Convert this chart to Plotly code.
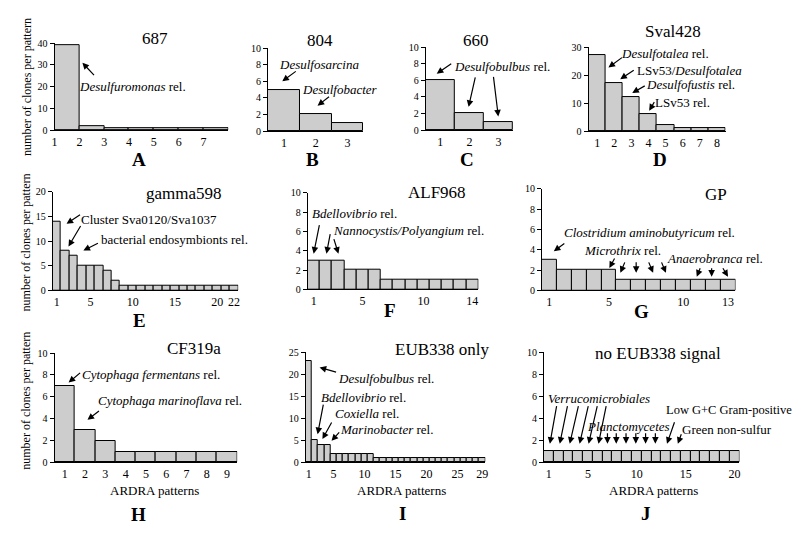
import plotly.graph_objects as go

W, H = 800, 533

# ---------------- data ----------------
panel_letters = ["A", "B", "C", "D", "E", "F", "G", "H", "I", "J"]
probe_names = ["687", "804", "660", "Sval428", "gamma598", "ALF968", "GP",
               "CF319a", "EUB338 only", "no EUB338 signal"]

A_counts = [39, 2, 1, 1, 1, 1, 1]
B_counts = [5, 2, 1]
C_counts = [6, 2, 1]
D_counts = [27, 17, 12, 6, 2, 1, 1, 1]
E_counts = [14, 8, 7, 5, 5, 5, 4, 2, 1, 1, 1, 1, 1, 1, 1, 1, 1, 1, 1, 1, 1, 1]
F_counts = [3, 3, 3, 2, 2, 2, 1, 1, 1, 1, 1, 1, 1, 1]
G_counts = [3, 2, 2, 2, 2, 1, 1, 1, 1, 1, 1, 1, 1]
H_counts = [7, 3, 2, 1, 1, 1, 1, 1, 1]
I_counts = [23, 5, 4, 4, 2, 2, 2, 2, 2, 2, 2, 1, 1, 1, 1, 1, 1, 1, 1, 1,
            1, 1, 1, 1, 1, 1, 1, 1, 1]
J_counts = [1, 1, 1, 1, 1, 1, 1, 1, 1, 1, 1, 1, 1, 1, 1, 1, 1, 1, 1, 1]

A_xticks = [1, 2, 3, 4, 5, 6, 7]
B_xticks = [1, 2, 3]
C_xticks = [1, 2, 3]
D_xticks = [1, 2, 3, 4, 5, 6, 7, 8]
E_xticks = [1, 5, 10, 15, 20, 22]
F_xticks = [1, 5, 10, 14]
G_xticks = [1, 5, 10, 13]
H_xticks = [1, 2, 3, 4, 5, 6, 7, 8, 9]
I_xticks = [1, 5, 10, 15, 20, 25, 29]
J_xticks = [1, 5, 10, 15, 20]

y_max = [40, 10, 10, 30, 20, 10, 10, 10, 25, 10]
y_step = [10, 2, 2, 10, 5, 2, 2, 2, 5, 2]

y_title = "number of clones per pattern"
x_title = "ARDRA patterns"

# ---------------- layout (pixel boxes) ----------------
counts_list = [A_counts, B_counts, C_counts, D_counts, E_counts,
               F_counts, G_counts, H_counts, I_counts, J_counts]
xticks_list = [A_xticks, B_xticks, C_xticks, D_xticks, E_xticks,
               F_xticks, G_xticks, H_xticks, I_xticks, J_xticks]
boxes = [(52, 227, 38, 127), (267, 363, 43, 128), (426, 514, 42, 127),
         (590, 728, 42, 128), (50, 237, 190, 291), (307, 479, 191, 290),
         (543, 738, 187, 291), (52, 236, 355, 467), (305, 486, 354, 467),
         (545, 742, 354, 467)]
edge_ticks = [True] + [False] * 9
title_pos = [(153, 33), (319, 35), (477, 35), (675, 26), (182, 192),
             (437, 191), (718, 193), (192, 350), (442, 351), (660, 355)]
letter_pos = [(137, 157), (312, 157), (468, 157), (662, 157), (138, 322),
              (390, 312), (643, 313), (137, 520), (403, 519), (648, 519)]

FONT = "Liberation Serif"

fig = go.Figure()
layout_upd = {}
for k in range(10):
    s = "" if k == 0 else str(k + 1)
    counts = counts_list[k]
    n = len(counts)
    off = 1.5 if edge_ticks[k] else 1.0
    xs = [i + off for i in range(n)]
    fig.add_trace(go.Bar(
        x=xs, y=counts, width=1, xaxis="x" + s, yaxis="y" + s,
        marker=dict(color="#cdcdcd", line=dict(color="black", width=1)),
        showlegend=False, hoverinfo="skip"))
    x0, x1, y0, y1 = boxes[k]
    xr = [1, n + 1] if edge_ticks[k] else [0.5, n + 0.5]
    layout_upd["xaxis" + s] = dict(
        domain=[x0 / W, x1 / W], range=xr, anchor="y" + s,
        tickmode="array", tickvals=xticks_list[k], ticks="",
        showline=True, linecolor="black", linewidth=1, showgrid=False,
        zeroline=False, tickfont=dict(family=FONT, size=12, color="black"),
        fixedrange=True)
    layout_upd["yaxis" + s] = dict(
        domain=[1 - y1 / H, 1 - y0 / H], range=[0, y_max[k]], anchor="x" + s,
        tickmode="array", tickvals=list(range(0, y_max[k] + 1, y_step[k])),
        ticks="outside", ticklen=4, tickcolor="black",
        showline=True, linecolor="black", linewidth=1, showgrid=False,
        zeroline=False, tickfont=dict(family=FONT, size=10, color="black"),
        fixedrange=True)

fig.update_layout(**layout_upd)
fig.update_layout(width=W, height=H, margin=dict(l=0, r=0, t=0, b=0),
                  paper_bgcolor="white", plot_bgcolor="white", bargap=0,
                  font=dict(family=FONT, color="black"))


def label(text, cx, cy, size=13, angle=0):
    fig.add_annotation(xref="paper", yref="paper", x=cx / W, y=1 - cy / H,
                       text=text, showarrow=False, xanchor="center",
                       yanchor="middle", textangle=angle,
                       font=dict(family=FONT, size=size, color="black"))


def arrow(k, x, y, ax, ay):
    s = "" if k == 0 else str(k + 1)
    fig.add_annotation(xref="x" + s, yref="y" + s, x=x, y=y, ax=ax, ay=ay,
                       text="", showarrow=True, arrowhead=2, arrowsize=1.1,
                       arrowwidth=1.2, arrowcolor="black", standoff=0,
                       startstandoff=0)


# titles and panel letters
for k in range(10):
    label(probe_names[k], *title_pos[k], size=17)
    label("<b>" + panel_letters[k] + "</b>", *letter_pos[k], size=19)

# axis titles
label(y_title, 24, 83, size=12, angle=-90)
label(y_title, 23, 242, size=12, angle=-90)
label(y_title, 23, 404, size=12, angle=-90)
for cx in (153, 402, 655):
    label(x_title, cx, 496, size=13)

# A
label("<i>Desulfuromonas</i> rel.", 130, 82)
arrow(0, 2.12, 31, 13, 14)
# B
label("<i>Desulfosarcina</i>", 318, 60)
arrow(1, 0.95, 6.0, 15, -11)
label("<i>Desulfobacter</i>", 340, 85)
arrow(1, 2.06, 3.06, 13, -10)
# C
label("<i>Desulfobulbus</i> rel.", 503, 62)
arrow(2, 0.875, 6.8, 16, -11)
arrow(2, 1.97, 2.8, 7, -31)
arrow(2, 2.99, 1.65, -5, -41)
# D
label("<i>Desulfotalea</i> rel.", 667, 49)
arrow(3, 1.66, 22.7, 15, -11)
label("LSv53/<i>Desulfotalea</i>", 692, 66)
arrow(3, 2.35, 18.5, 15, -10)
label("<i>Desulfofustis</i> rel.", 693, 80)
arrow(3, 3.05, 13.6, 14, -8)
label("LSv53 rel.", 685, 99)
arrow(3, 4.04, 7.3, 6, -10)
# E
label("Cluster Sva0120/Sva1037", 147, 218)
arrow(4, 2.15, 13.5, 15, -10)
arrow(4, 2.38, 8.9, 13, -22)
label("bacterial endosymbionts rel.", 173, 239)
arrow(4, 4.15, 8.1, 16, -8)
# F
label("<i>Bdellovibrio</i> rel.", 354, 212)
arrow(5, 0.99, 3.7, 6, -30)
label("<i>Nannocystis/Polyangium</i> rel.", 409, 230)
arrow(5, 2.04, 3.7, 4, -21)
arrow(5, 3.02, 3.7, -5, -16)
# G
label("<i>Clostridium aminobutyricum</i> rel.", 651, 232)
arrow(6, 1.3, 3.85, 12, -9)
label("<i>Microthrix</i> rel.", 624, 250)
arrow(6, 5.03, 2.2, 6, -11)
arrow(6, 5.77, 1.73, 5, -12)
arrow(6, 6.83, 1.73, 0, -12)
arrow(6, 7.97, 1.73, -5, -12)
arrow(6, 8.83, 1.73, -5, -12)
label("<i>Anaerobranca</i> rel.", 717, 258)
arrow(6, 10.9, 1.35, 4, -10)
arrow(6, 11.9, 1.35, 0, -10)
arrow(6, 13.0, 1.35, -6, -10)
# H
label("<i>Cytophaga fermentans</i> rel.", 149, 377)
arrow(7, 1.19, 7.3, 13, -11)
label("<i>Cytophaga marinoflava</i> rel.", 168, 404)
arrow(7, 2.12, 3.9, 13, -10)
# I
label("<i>Desulfobulbus</i> rel.", 386, 381)
arrow(8, 2.74, 21.5, 18, 5)
label("<i>Bdellovibrio</i> rel.", 363, 401)
arrow(8, 2.42, 6.4, 6, -31)
label("<i>Coxiella</i> rel.", 367, 417)
arrow(8, 3.2, 5.3, 10, -18)
label("<i>Marinobacter</i> rel.", 386, 433)
arrow(8, 4.67, 4.9, 9, -10)
# J
label("<i>Verrucomicrobiales</i>", 601, 402)
for hx, tx in [(1.11, 7), (2.12, 8), (3.14, 9), (4.15, 9), (5.07, 9), (6.08, 8)]:
    arrow(9, hx, 1.7, tx, -39)
label("<i>Planctomycetes</i>", 630, 430)
for hx in [7.0, 7.9, 8.9, 9.9, 10.9, 11.9]:
    arrow(9, hx, 1.7, 0, -12)
label("Low G+C Gram-positive", 731, 413, size=12.5)
arrow(9, 13.09, 1.7, 8, -23)
label("Green non-sulfur", 729, 433)
arrow(9, 14.2, 1.7, 4, -11)

fig.write_html("out.html", config={"displayModeBar": False},
               post_script="document.body.style.margin='0px';")
